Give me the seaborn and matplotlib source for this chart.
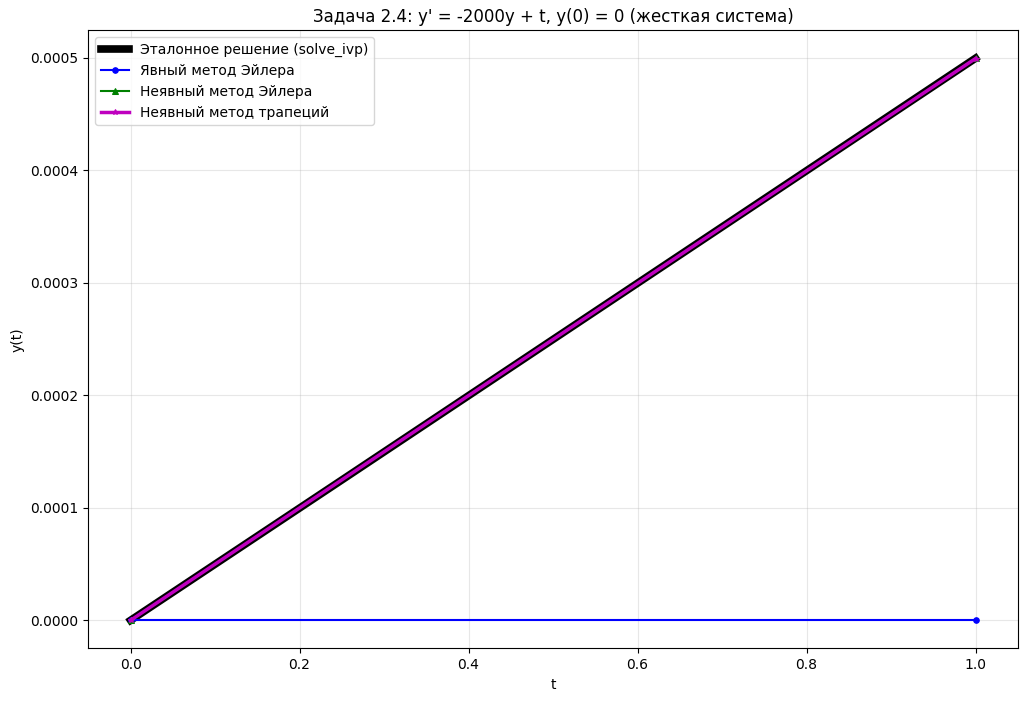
import matplotlib
matplotlib.use("Agg")
import matplotlib.pyplot as plt
import seaborn as sns
import numpy as np

t_ref = [0.0, 0.25, 0.5, 0.75, 1.0]
y_ref = [0.0, 0.00012475, 0.00024975, 0.00037475, 0.00049975]
t_steps = [0.0, 1.0]
y_explicit = [0.0, 0.0]
y_implicit = [0.0, 0.00049975]
y_trap = [0.0, 0.0004995]

fig, ax = plt.subplots(figsize=(10.27, 7.01), dpi=100)
sns.lineplot(x=t_ref, y=y_ref, ax=ax, color="black", linewidth=5.5,
             label="Эталонное решение (solve_ivp)", sort=False)
sns.lineplot(x=t_steps, y=y_explicit, ax=ax, color="blue", linewidth=1.5,
             marker="o", markersize=4, markeredgecolor="blue",
             label="Явный метод Эйлера", sort=False)
sns.lineplot(x=t_steps, y=y_implicit, ax=ax, color="green", linewidth=1.5,
             marker="^", markersize=4, markeredgecolor="green",
             label="Неявный метод Эйлера", sort=False)
sns.lineplot(x=t_steps, y=y_trap, ax=ax, color="m", linewidth=2.5,
             marker="*", markersize=4, markeredgecolor="m",
             label="Неявный метод трапеций", sort=False)

ax.set_xlabel("t")
ax.set_ylabel("y(t)")
ax.set_title("Задача 2.4: y' = -2000y + t, y(0) = 0 (жесткая система)")
ax.grid(True, alpha=0.3)
ax.legend(loc="upper left")
fig.subplots_adjust(left=0.086, right=0.991, top=0.957, bottom=0.075)
fig.savefig("out.png", dpi=100)
